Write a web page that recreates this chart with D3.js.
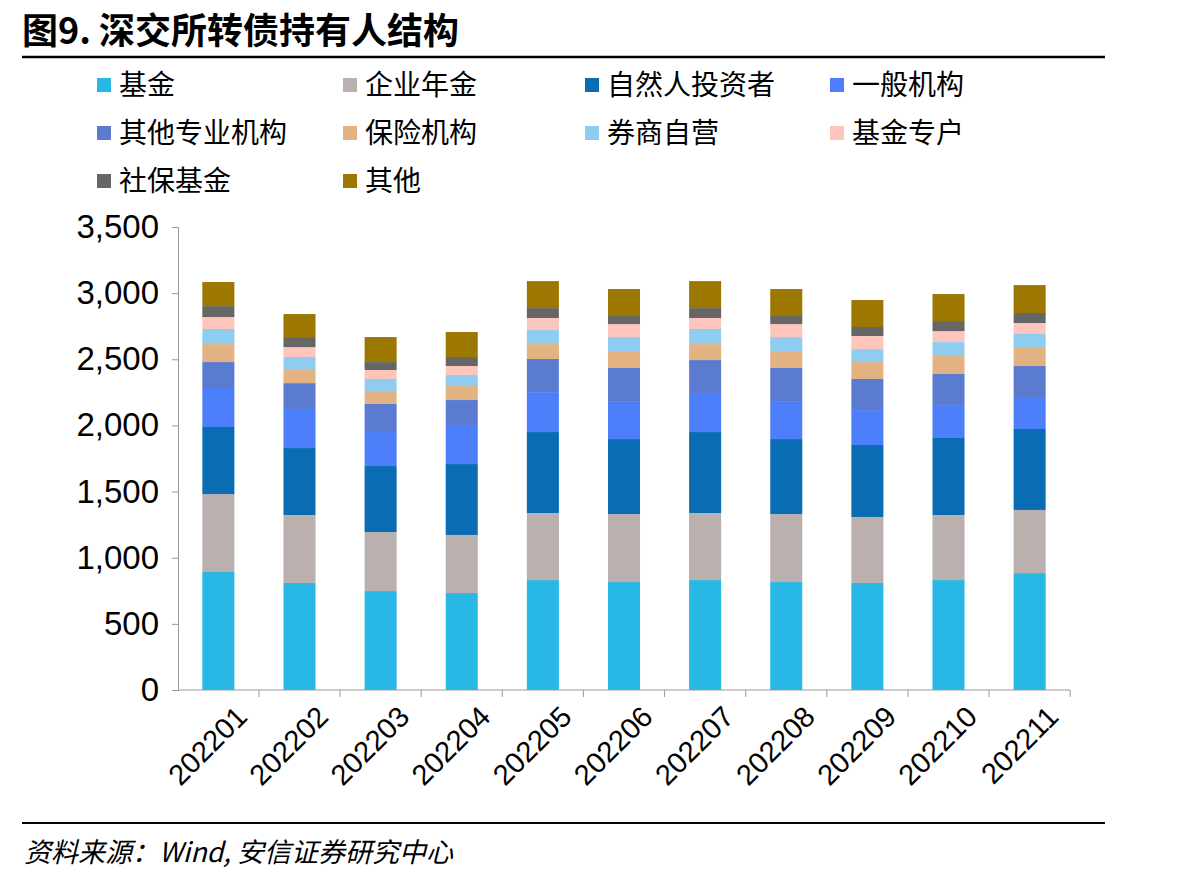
<!DOCTYPE html>
<html><head><meta charset="utf-8">
<script src="https://cdn.jsdelivr.net/npm/d3@7"></script>
<style>body{margin:0;background:#fff}</style>
</head><body>
<svg id="c" width="1200" height="882"></svg>
<script>
const months = ['202201','202202','202203','202204','202205','202206','202207','202208','202209','202210','202211']
const seriesNames = ['基金','企业年金','自然人投资者','一般机构','其他专业机构','保险机构','券商自营','基金专户','社保基金','其他']
const colors = ['#29b8e6','#bab0ad','#0a6db3','#4d7ffa','#5b7bd0','#e2b283','#8ecdf0','#fdc5bb','#666666','#9c7800']
const fund = [892,809,748,733,831,816,831,816,809,831,884]
const annuity = [589,514,446,439,507,514,507,514,499,492,477]
const retail = [507,506,499,536,612,567,612,567,544,582,612]
const general = [295,295,257,295,302,287,295,287,264,249,242]
const otherPro = [196,196,212,189,250,250,249,250,235,235,234]
const insurance = [136,106,98,106,113,128,121,128,128,143,143]
const broker = [114,91,91,83,106,106,114,106,98,98,99]
const fundAcct = [90,75,68,68,91,98,83,98,99,83,83]
const social = [83,76,60,68,75,61,75,61,68,76,76]
const others = [182,174,189,189,204,204,204,204,204,204,211]
const series = [fund,annuity,retail,general,otherPro,insurance,broker,fundAcct,social,others]
const yTicks = [0,500,1000,1500,2000,2500,3000,3500]

const svg = d3.select('#c')
const M = {left: 178, right: 1070, top: 227, bottom: 690}
const data = months.map((m, i) => {
  const o = {month: m}
  seriesNames.forEach((s, j) => { o[s] = series[j][i] })
  return o
})
const stacked = d3.stack().keys(seriesNames)(data)

const x = d3.scaleBand().domain(months).range([M.left, M.right]).paddingInner(0.605).paddingOuter(0.3)
const y = d3.scaleLinear().domain([0, 3500]).range([M.bottom, M.top])

// title
svg.append('text').attr('x', 22).attr('y', 44).attr('font-family', 'Noto Sans CJK SC')
  .attr('font-weight', 'bold').attr('font-size', 36).text('图9. 深交所转债持有人结构')
svg.append('line').attr('x1', 22).attr('x2', 1105).attr('y1', 57).attr('y2', 57)
  .attr('stroke', '#000').attr('stroke-width', 2.5)

// legend
const legX = [97, 343, 585, 830]
seriesNames.forEach((s, i) => {
  const g = svg.append('g').attr('transform', `translate(${legX[i % 4]},${85 + Math.floor(i / 4) * 48})`)
  g.append('rect').attr('x', 0).attr('y', -7).attr('width', 14).attr('height', 14).attr('fill', colors[i])
  g.append('text').attr('x', 22).attr('y', 10).attr('font-family', 'Noto Sans CJK SC')
    .attr('font-size', 28).text(s)
})

// bars
svg.append('g').selectAll('g').data(stacked).enter().append('g')
  .attr('fill', (d, i) => colors[i])
  .selectAll('rect').data(d => d).enter().append('rect')
  .attr('x', d => x(d.data.month))
  .attr('width', x.bandwidth())
  .attr('y', d => y(d[1]))
  .attr('height', d => y(d[0]) - y(d[1]))

// y axis
const ya = svg.append('g').attr('transform', `translate(${M.left},0)`)
  .call(d3.axisLeft(y).tickValues(yTicks).tickSize(6).tickFormat(d3.format(',')))
ya.selectAll('text').attr('font-family', 'Liberation Sans').attr('font-size', 33).attr('fill', '#000').attr('dx', -10)
ya.selectAll('line,path').attr('stroke', '#999')

// x axis
const step = x.step()
svg.append('line').attr('x1', M.left).attr('x2', M.right).attr('y1', M.bottom).attr('y2', M.bottom).attr('stroke', '#999')
const xa = svg.append('g').attr('transform', `translate(0,${M.bottom})`)
  .call(d3.axisBottom(x).tickSize(0).tickFormat(d => d))
xa.select('path').remove()
xa.selectAll('.tick').append('line').attr('x1', step / 2).attr('x2', step / 2).attr('y1', 0).attr('y2', 7).attr('stroke', '#999')
xa.selectAll('text').attr('font-family', 'Liberation Sans').attr('font-size', 29).attr('fill', '#000')
  .attr('text-anchor', 'end').attr('transform', 'translate(14,12) rotate(-45)').attr('dy', '0.7em')

// source
svg.append('line').attr('x1', 22).attr('x2', 1105).attr('y1', 823).attr('y2', 823)
  .attr('stroke', '#000').attr('stroke-width', 2)
svg.append('text').attr('x', 24).attr('y', 862).attr('font-family', 'Noto Sans CJK SC')
  .attr('font-style', 'italic').attr('font-size', 27).text('资料来源：Wind, 安信证券研究中心')
</script>
</body></html>
